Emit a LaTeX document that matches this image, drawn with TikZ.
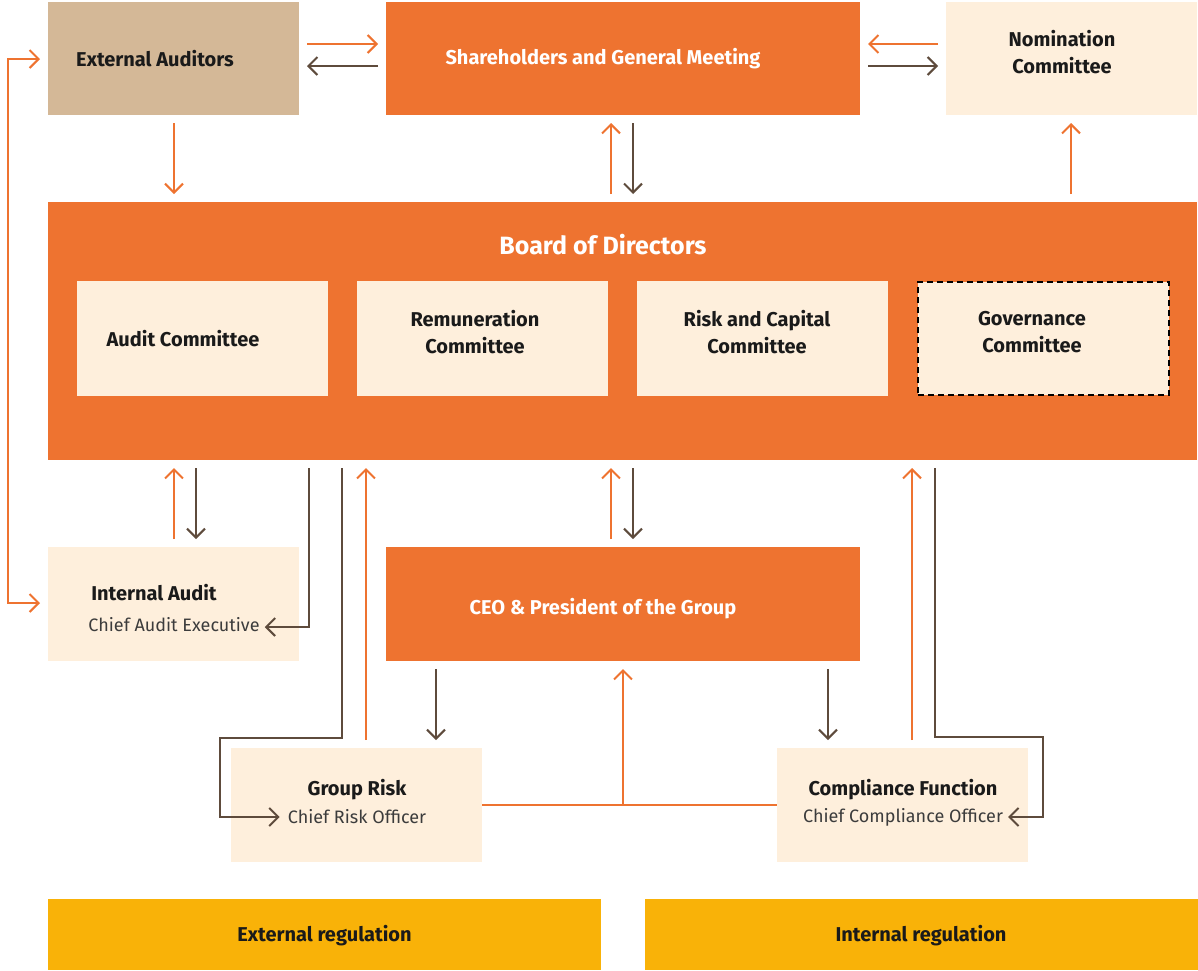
\documentclass[tikz,border=0pt]{standalone}
\usepackage{fontspec}
\setmainfont{Fira Sans}
\usetikzlibrary{arrows.meta}
\definecolor{org}{HTML}{EE7330}
\definecolor{tanc}{HTML}{D4B897}
\definecolor{lite}{HTML}{FEEFDC}
\definecolor{brn}{HTML}{5E4B3C}
\definecolor{yel}{HTML}{F9B208}
\definecolor{txt}{HTML}{1A1A1A}
\begin{document}
\begin{tikzpicture}[x=1pt,y=-1pt,
  box/.style={rectangle, inner sep=0pt, outer sep=0pt, draw=none},
  lbl/.style={inner sep=0pt, font=\fontsize{20}{27}\selectfont\bfseries, text=txt, align=center},
  sub/.style={inner sep=0pt, font=\fontsize{18}{26}\selectfont, text=txt!85},
  wlbl/.style={lbl, text=white},
  oarr/.style={draw=org, line width=2pt, -{Straight Barb[length=9pt,width=18pt,line width=2pt]}},
  barr/.style={draw=brn, line width=2pt, -{Straight Barb[length=9pt,width=18pt,line width=2pt]}},
  gap/.style={shorten <=8pt, shorten >=8pt}
]
\useasboundingbox (0,0) rectangle (1198,970);
% top row
\node[box, fill=tanc, minimum width=251pt, minimum height=113pt] (ea) at (173.5,58.5) {};
\node[box, fill=org, minimum width=474pt, minimum height=113pt] (sh) at (623,58.5) {};
\node[box, fill=lite, minimum width=251pt, minimum height=113pt] (nc) at (1071.5,58.5) {};
\node[lbl] (eat) at (155,59) {External Auditors};
\node[wlbl] (sht) at (603,59) {Shareholders and General Meeting};
\node[lbl] (nct) at (1062,52) {Nomination\\Committee};
% board
\node[box, fill=org, minimum width=1149pt, minimum height=258pt] (bd) at (622.5,331) {};
\node[wlbl, font=\fontsize{25}{28}\selectfont\bfseries] (bdt) at (603,245) {Board of Directors};
\node[box, fill=lite, minimum width=251pt, minimum height=115pt] (ac) at (202.5,338.5) {};
\node[box, fill=lite, minimum width=251pt, minimum height=115pt] (rc) at (482.5,338.5) {};
\node[box, fill=lite, minimum width=251pt, minimum height=115pt] (rk) at (762.5,338.5) {};
\node[box, fill=lite, draw=black, line width=2.2pt, dash pattern=on 6pt off 4pt, minimum width=251pt, minimum height=113pt] (gc) at (1043.5,338.5) {};
\node[lbl] (act) at (183,339) {Audit Committee};
\node[lbl] (rct) at (475,332) {Remuneration\\Committee};
\node[lbl] (rkt) at (757,332) {Risk and Capital\\Committee};
\node[lbl] (gct) at (1032,332) {Governance\\Committee};
% middle
\node[box, fill=lite, minimum width=251pt, minimum height=114pt] (ia) at (173.5,604) {};
\node[lbl] (iat) at (154,593) {Internal Audit};
\node[sub] (ias) at (174,625) {Chief Audit Executive};
\node[box, fill=org, minimum width=474pt, minimum height=114pt] (ceo) at (623,604) {};
\node[wlbl] (ceot) at (603,609) {CEO \& President of the Group};
% bottom
\node[box, fill=lite, minimum width=251pt, minimum height=114pt] (gr) at (356.5,805) {};
\node[lbl] (grt) at (357,790) {Group Risk};
\node[sub] (grs) at (357,817) {Chief Risk Officer};
\node[box, fill=lite, minimum width=251pt, minimum height=114pt] (cf) at (902.5,805) {};
\node[lbl] (cft) at (903,790) {Compliance Function};
\node[sub] (cfs) at (903,817) {Chief Compliance Officer};
\node[box, fill=yel, minimum width=553pt, minimum height=71pt] (er) at (324.5,934.5) {};
\node[lbl] (ert) at (324.5,936) {External regulation};
\node[box, fill=yel, minimum width=553pt, minimum height=71pt] (ir) at (921,934.5) {};
\node[lbl] (irt) at (921,936) {Internal regulation};
% connectors top
\draw[oarr, gap] (ea.east |- 0,44) -- (sh.west |- 0,44);
\draw[barr, gap] (sh.west |- 0,66) -- (ea.east |- 0,66);
\draw[oarr, gap] (nc.west |- 0,44) -- (sh.east |- 0,44);
\draw[barr, gap] (sh.east |- 0,66) -- (nc.west |- 0,66);
\draw[oarr, gap] (174,0 |- ea.south) -- (174,0 |- bd.north);
\draw[oarr, gap] (611,0 |- bd.north) -- (611,0 |- sh.south);
\draw[barr, gap] (633,0 |- sh.south) -- (633,0 |- bd.north);
\draw[oarr, gap] (1071,0 |- bd.north) -- (1071,0 |- nc.south);
% left loop
\draw[draw=org, line width=2pt, {Straight Barb[length=9pt,width=18pt,line width=2pt]}-{Straight Barb[length=9pt,width=18pt,line width=2pt]}, shorten <=8pt, shorten >=8pt] (ia.west |- 0,603) -- (8,603) -- (8,59) -- (ea.west |- 0,59);
% board - internal audit
\draw[oarr, gap] (174,0 |- ia.north) -- (174,0 |- bd.south);
\draw[barr, gap] (196,0 |- bd.south) -- (196,0 |- ia.north);
\draw[barr, shorten <=8pt] (309,0 |- bd.south) -- (309,627) -- ([xshift=5pt]ias.east |- 0,627);
% board - group risk
\draw[barr, shorten <=8pt] (342,0 |- bd.south) -- (342,738) -- (220,738) -- (220,817) -- ([xshift=-8pt]grs.west);
\draw[oarr, gap] (366,0 |- gr.north) -- (366,0 |- bd.south);
% board - ceo
\draw[oarr, gap] (611,0 |- ceo.north) -- (611,0 |- bd.south);
\draw[barr, gap] (633,0 |- bd.south) -- (633,0 |- ceo.north);
\draw[barr, gap] (436,0 |- ceo.south) -- (436,0 |- gr.north);
\draw[barr, gap] (828,0 |- ceo.south) -- (828,0 |- cf.north);
% group risk - compliance to ceo
\draw[draw=org, line width=2pt] (gr.east) -- (cf.west);
\draw[oarr, shorten >=8pt] (623,0 |- gr.east) -- (623,0 |- ceo.south);
% compliance - board
\draw[oarr, gap] (912,0 |- cf.north) -- (912,0 |- bd.south);
\draw[barr, shorten <=8pt] (935,0 |- bd.south) -- (935,737) -- (1043,737) -- (1043,817) -- ([xshift=5pt]cfs.east);
\end{tikzpicture}
\end{document}
